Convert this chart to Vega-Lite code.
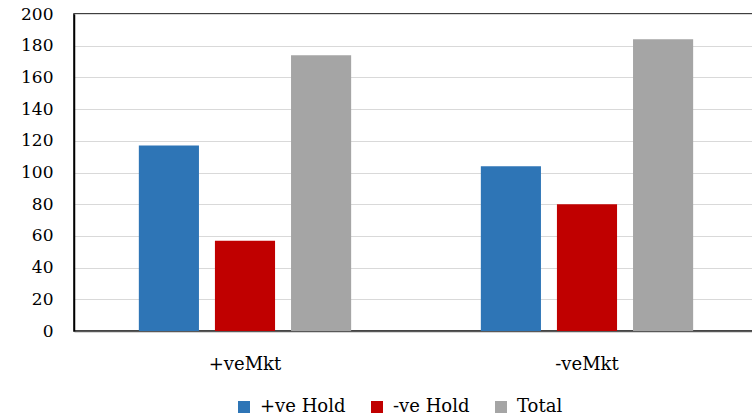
{
  "$schema": "https://vega.github.io/schema/vega-lite/v6.json",
  "autosize": "none",
  "width": 679,
  "height": 317,
  "padding": {"left": 74, "top": 14, "right": 0, "bottom": 87},
  "background": "white",
  "config": {
    "font": "DejaVu Serif",
    "view": {"stroke": "black", "strokeWidth": 1.5},
    "axis": {"labelFont": "DejaVu Serif", "labelFontSize": 17, "labelColor": "black", "ticks": false, "tickSize": 0, "title": null},
    "legend": {"labelFont": "DejaVu Serif", "labelFontSize": 18, "labelColor": "black"}
  },
  "data": {
    "values": [
      {"market": "+veMkt", "series": "+ve Hold", "value": 117},
      {"market": "+veMkt", "series": "-ve Hold", "value": 57},
      {"market": "+veMkt", "series": "Total", "value": 174},
      {"market": "-veMkt", "series": "+ve Hold", "value": 104},
      {"market": "-veMkt", "series": "-ve Hold", "value": 80},
      {"market": "-veMkt", "series": "Total", "value": 184}
    ]
  },
  "mark": {"type": "bar"},
  "encoding": {
    "x": {
      "field": "market", "type": "nominal", "sort": ["+veMkt", "-veMkt"],
      "scale": {"paddingInner": 0.3792, "paddingOuter": 0.1823, "align": 0.52},
      "axis": {"labelAngle": 0, "labelPadding": 24, "labelFontSize": 18, "domainColor": "#595959", "domainWidth": 1.5, "grid": false}
    },
    "xOffset": {
      "field": "series", "type": "nominal", "sort": ["+ve Hold", "-ve Hold", "Total"],
      "scale": {"paddingInner": 0.21, "paddingOuter": 0}
    },
    "y": {
      "field": "value", "type": "quantitative",
      "scale": {"domain": [0, 200], "nice": false},
      "axis": {"values": [0, 20, 40, 60, 80, 100, 120, 140, 160, 180, 200], "labelPadding": 21, "domainColor": "black", "domainWidth": 1.5, "gridColor": "#d9d9d9", "gridWidth": 1.2}
    },
    "color": {
      "field": "series", "type": "nominal",
      "scale": {"domain": ["+ve Hold", "-ve Hold", "Total"], "range": ["#2E75B6", "#C00000", "#A5A5A5"]},
      "legend": {"orient": "none", "legendX": 161, "legendY": 384, "direction": "horizontal", "title": null, "symbolType": "square", "symbolSize": 144, "symbolStrokeWidth": 0, "symbolOpacity": 1, "columnPadding": 22, "labelOffset": 7}
    }
  }
}
